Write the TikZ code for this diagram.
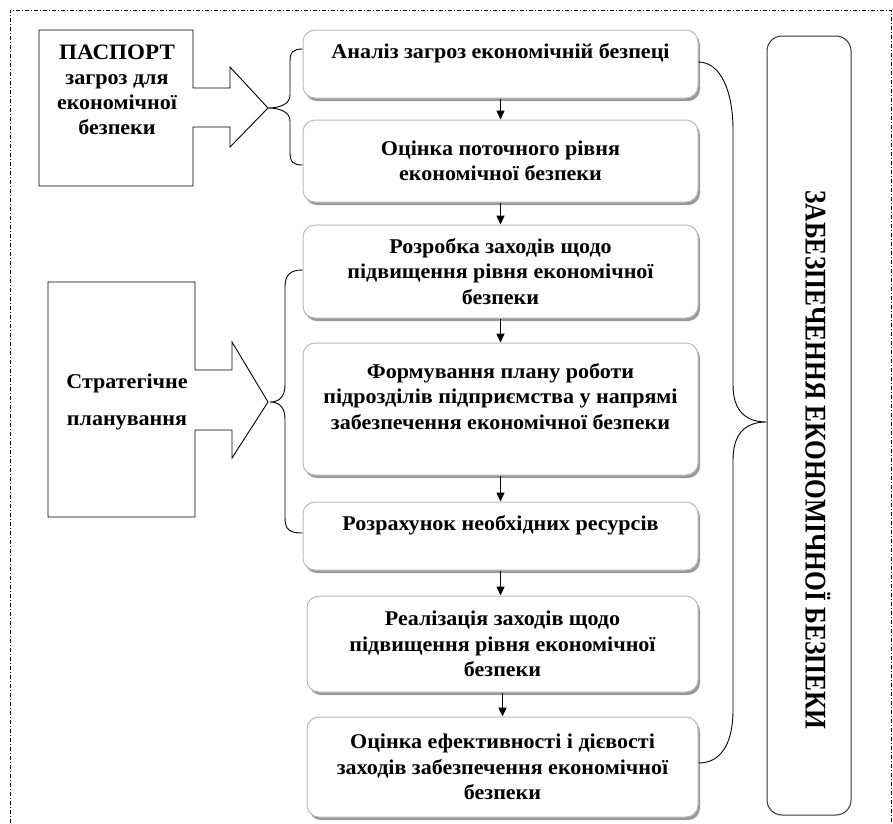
\documentclass[tikz,border=0pt]{standalone}
\usepackage{fontspec}
\setmainfont[FakeStretch=1.05]{Liberation Serif}
\newfontfamily\goalfont[FakeStretch=0.845]{Liberation Serif}
\usetikzlibrary{shadows,arrows.meta}
\begin{document}
\begin{tikzpicture}[x=1pt,y=-1pt,
 stage/.style={draw=gray!55, line width=1pt, fill=white, rounded corners=12pt, align=center, inner sep=0pt,
   font=\bfseries\fontsize{21}{25.5}\selectfont,
   drop shadow={shadow xshift=2pt, shadow yshift=-3pt, fill=gray!80, opacity=1}},
 arr/.style={-{Triangle[length=9pt,width=8pt]}, line width=1.4pt},
 brace/.style={line width=0.9pt},
 outline/.style={line width=0.9pt},
 frame/.style={line width=0.6pt, dash pattern=on 4pt off 2pt on 1pt off 2pt},
 plain/.style={align=center, inner sep=0pt, font=\bfseries\fontsize{21}{25}\selectfont}]
\useasboundingbox (0,0) rectangle (893,823);
\draw[frame] (10,823) -- (10,10) -- (891,10) -- (891,823);

% left shapes
\draw[outline] (193,88) -- (193,30) -- (39,30) -- (39,186) -- (193,186) -- (193,127) -- (230,127) -- (230,147) -- (268,108) -- (230,67) -- (230,88) -- cycle;
\node[plain] (pass) at (117,90) {{\fontsize{22}{28}\selectfont ПАСПОРТ}\\загроз для\\економічної\\безпеки};

\draw[outline] (195,370) -- (195,282) -- (48,282) -- (48,517) -- (195,517) -- (195,430) -- (232,430) -- (232,458) -- (268,402) -- (232,342) -- (232,370) -- cycle;
\node[plain, font=\bfseries\fontsize{21}{37}\selectfont] (strat) at (127,402) {Стратегічне\\планування};

% stage boxes
\node[stage, minimum width=395pt, minimum height=68pt] (b1) at (500.5,64) {Аналіз загроз економічній безпеці\\\mbox{}};
\node[stage, minimum width=395pt, minimum height=82pt] (b2) at (500.5,161) {Оцінка поточного рівня\\економічної безпеки};
\node[stage, minimum width=395pt, minimum height=93pt] (b3) at (500.5,271.5) {Розробка заходів щодо\\підвищення рівня економічної\\безпеки};
\node[stage, minimum width=395pt, minimum height=132pt] (b4) at (500.5,409) {Формування плану роботи\\підрозділів підприємства у напрямі\\забезпечення економічної безпеки\\\mbox{}};
\node[stage, minimum width=395pt, minimum height=68pt] (b5) at (500.5,536) {Розрахунок необхідних ресурсів\\\mbox{}};
\node[stage, minimum width=391pt, minimum height=96pt] (b6) at (502.5,644) {Реалізація заходів щодо\\підвищення рівня економічної\\безпеки};
\node[stage, minimum width=391pt, minimum height=100pt] (b7) at (502.5,767) {Оцінка ефективності і дієвості\\заходів забезпечення економічної\\безпеки};

\draw[arr] (b1.south) -- (b2.north);
\draw[arr] (b2.south) -- (b3.north);
\draw[arr] (b3.south) -- (b4.north);
\draw[arr] (b4.south) -- (b5.north);
\draw[arr] (b5.south) -- (b5.south |- b6.north);
\draw[arr] (b6.south) -- (b7.north);

% goal box
\node[draw=black!80, line width=1pt, rounded corners=15pt, minimum width=84pt, minimum height=779pt, inner sep=0pt] (goal) at (809,425.5) {};
\node[rotate=-90, inner sep=0pt, font=\goalfont\bfseries\fontsize{30}{34}\selectfont] (goaltext) at (818,460) {ЗАБЕЗПЕЧЕННЯ ЕКОНОМІЧНОЇ БЕЗПЕКИ};

% braces
\coordinate (p1) at (b1.west |- 0,49);
\coordinate (p2) at (b2.west |- 0,165);
\coordinate (ptip) at (268,108);
\draw[brace] (p1) .. controls (293,49) and (290,52) .. (290,62) -- (290,95) .. controls (290,104) and (280,108) .. (ptip) .. controls (280,108) and (290,112) .. (290,121) -- (290,152) .. controls (290,162) and (293,165) .. (p2);

\coordinate (s1) at (b3.west |- 0,270);
\coordinate (s2) at (b5.west |- 0,533);
\coordinate (stip) at (270,402);
\draw[brace] (s1) .. controls (290,270) and (285,275) .. (285,287) -- (285,385) .. controls (285,396) and (280,402) .. (stip) .. controls (280,402) and (285,408) .. (285,419) -- (285,518) .. controls (285,530) and (290,533) .. (s2);

\coordinate (g1) at (b1.east |- 0,62);
\coordinate (g2) at (b7.east |- 0,763);
\coordinate (gtip) at (goal.west |- 0,422);
\draw[brace] (g1) .. controls (720,62) and (733,90) .. (733,130) -- (733,385) .. controls (733,410) and (745,422) .. (gtip) .. controls (745,422) and (733,434) .. (733,460) -- (733,710) .. controls (733,745) and (720,763) .. (g2);
\end{tikzpicture}
\end{document}
